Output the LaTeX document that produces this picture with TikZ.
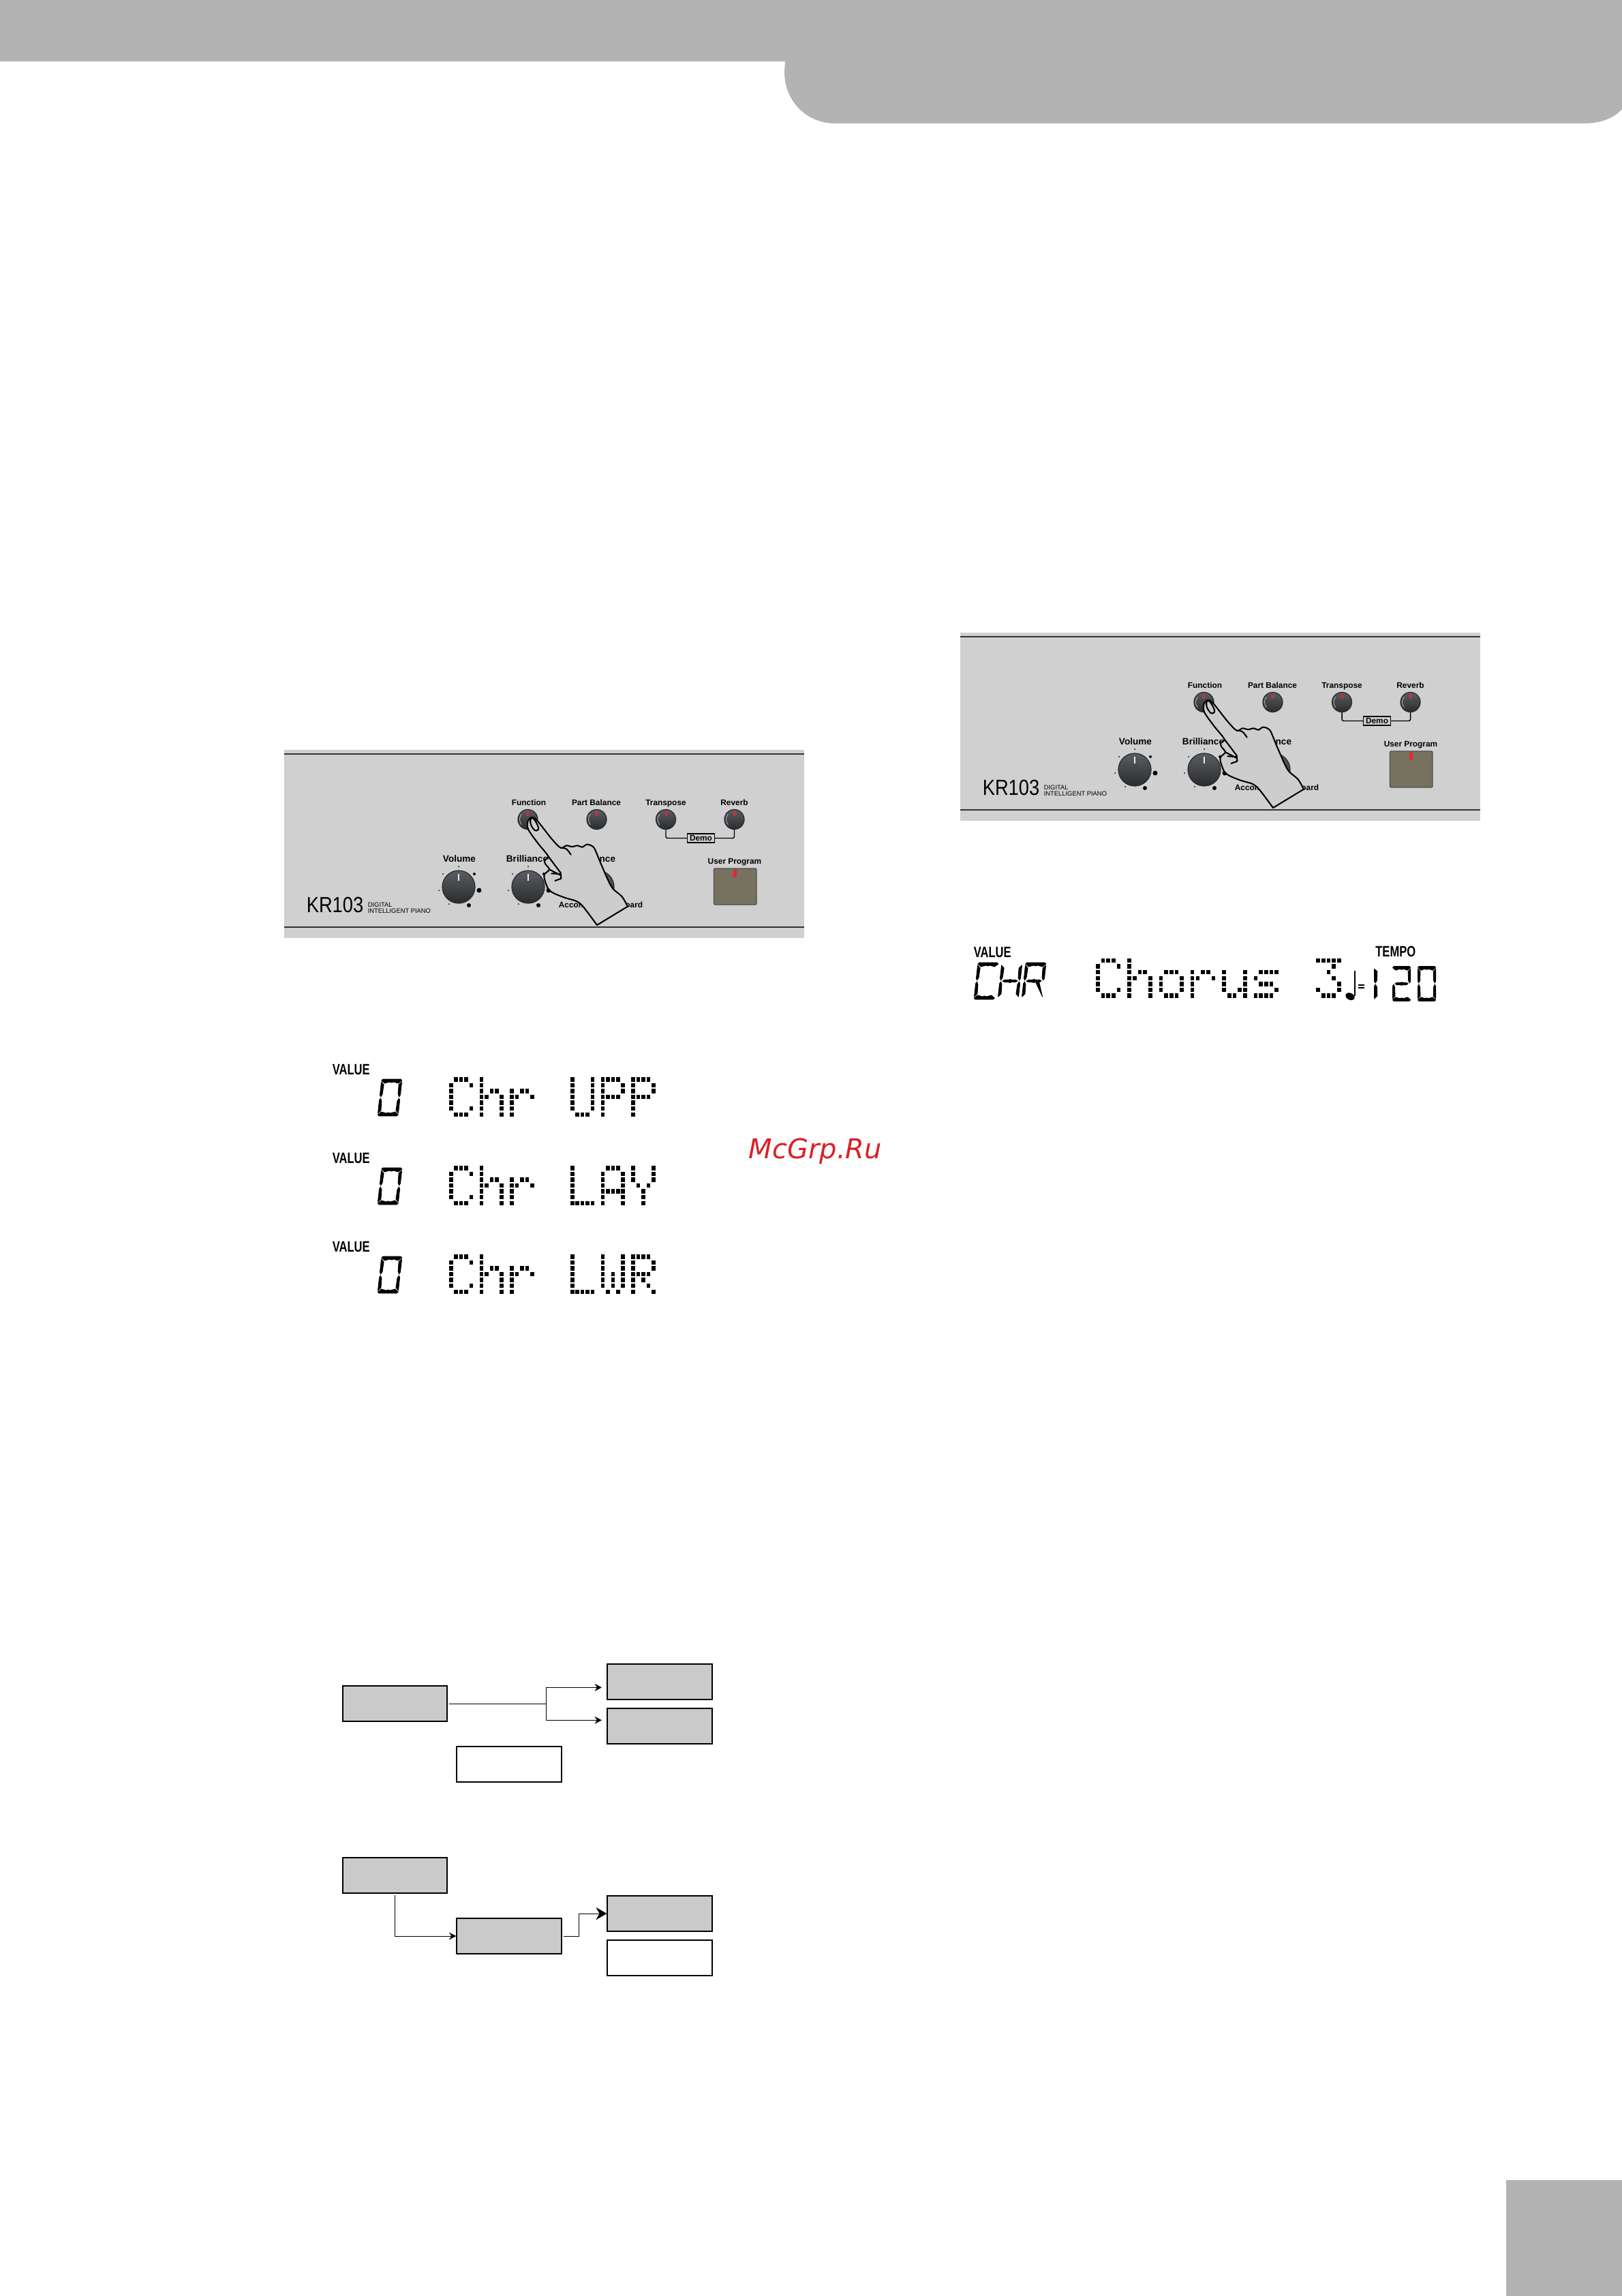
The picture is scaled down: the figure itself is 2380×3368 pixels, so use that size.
\documentclass[tikz,border=0pt]{standalone}
\usepackage{fontspec}
\setmainfont{Liberation Sans}
\newfontfamily\wmfont{DejaVu Sans}
\usetikzlibrary{arrows.meta}

\definecolor{bandgray}{HTML}{B3B3B3}
\definecolor{panelgray}{HTML}{D0D0D0}
\definecolor{handgray}{HTML}{CDCDCD}
\definecolor{rulegray}{HTML}{333333}
\definecolor{boxgray}{HTML}{CACACA}
\definecolor{knobtop}{HTML}{5A5E62}
\definecolor{knobbot}{HTML}{2A2B2D}
\definecolor{ledred}{HTML}{E8262C}
\definecolor{btngray}{HTML}{76725F}
\definecolor{wmred}{HTML}{DA2128}

\tikzset{
  panellab/.style={font=\fontsize{2.85}{3.4}\selectfont\bfseries,inner sep=0pt,anchor=base},
  knoblab/.style={font=\fontsize{3.26}{3.9}\selectfont\bfseries,inner sep=0pt,anchor=base},
  lcdlab/.style={font=\fontsize{5.3}{6}\selectfont\bfseries,inner sep=0pt},
  flowbox/.style={draw,line width=0.48pt,minimum width=36.8pt,minimum height=12.6pt,inner sep=0pt},
  graybox/.style={flowbox,fill=boxgray},
  flowline/.style={line width=0.24pt},
  flowarrow/.style={flowline,-{Stealth[length=2.5pt,width=2.6pt]}},
  bigarrow/.style={flowline,-{Stealth[length=3.8pt,width=4.4pt]}},
  handline/.style={line width=0.5pt,line join=round,line cap=round},
  thicksegs/.style={every path/.append style={draw=black,line width=0.2pt,line join=round}},
}

% small round button: x, y
\newcommand{\smallknob}[2]{
  \shade[top color=knobtop,bottom color=knobbot,draw=knobbot,line width=0.3pt] (#1,#2) circle (14.5);
  \draw[gray!60,line width=0.2pt] (#1,#2) ++(140:12) arc (140:220:12);
  \fill[ledred] (#1-1.5,#2-11.5) rectangle (#1+1.5,#2-5);
}
% big knob: x, y
\newcommand{\bigknob}[2]{
  \shade[top color=knobtop,bottom color=knobbot,draw=knobbot,line width=0.3pt] (#1,#2) circle (24);
  \fill[white!85!gray] (#1-1.2,#2-19) rectangle (#1+1.2,#2-9);
}
% the scale round a big knob: x, y
\newcommand{\knobscale}[2]{
  \foreach \dx/\dy/\dr in {0/-30/1,-23/-19/1,23/-19/2,-29/5/1,30/5/3.5,-14/25/1,15/27/3}
    \fill[black] (#1+\dx,#2+\dy) circle (\dr);
}
% the whole control panel: shift x, shift y, prefix
\newcommand{\kbdpanel}[3]{
\begin{scope}[shift={(#1,#2)},name prefix=#3-]
%Shape: Panel
\fill[panelgray] (417,1100) rectangle (1180,1376);
%Straight Lines
\draw[rulegray,line width=0.6pt] (417,1106) -- (1180,1106);
\draw[rulegray,line width=0.6pt] (417,1360) -- (1180,1360);
% Text Node
\node[panellab] (function) at (776,1181) {Function};
\node[panellab] (partbal) at (875,1181) {Part Balance};
\node[panellab] (transpose) at (977,1181) {Transpose};
\node[panellab] (reverb) at (1077.5,1181) {Reverb};
\node[knoblab] (volume) at (674,1264.5) {Volume};
\node[knoblab] (brilliance) at (773.5,1264.5) {Brilliance};
\node[knoblab] (balance) at (877,1264.5) {Balance};
\node[panellab] (userprog) at (1078,1267) {User Program};
\node[panellab,anchor=base west] (accomp) at (819,1331) {Accomp};
\node[panellab,anchor=base east] (keyboard) at (944,1331) {Keyboard};
%Shape: Buttons
\smallknob{774.5}{1202}
\smallknob{875.5}{1202}
\smallknob{977}{1202}
\smallknob{1077.5}{1202}
\knobscale{673}{1301}
\knobscale{775}{1301}
\bigknob{673}{1301}
\bigknob{775}{1301}
\bigknob{877}{1301}
%Shape: Demo bracket
\node[panellab,anchor=center,draw,line width=0.35pt,minimum width=9.6pt,minimum height=3.1pt] (demo) at (1028.5,1229.5) {Demo};
\coordinate (trbot) at (977,1217);
\coordinate (rvbot) at (1077.5,1217);
\draw[line width=0.35pt,rounded corners=0.6pt] (trbot) |- (demo.west);
\draw[line width=0.35pt,rounded corners=0.6pt] (rvbot) |- (demo.east);
%Shape: User Program button
\fill[btngray,draw=black!70,line width=0.3pt,rounded corners=0.3pt] (1047.5,1274) rectangle (1110,1327);
\fill[ledred] (1075.5,1276) rectangle (1080.5,1287);
% Text Node
\node[anchor=west,inner sep=0pt,font=\fontsize{7.7}{8}\selectfont] (logo) at (449,1327.5) {\scalebox{0.85}[1]{KR103}};
\node[anchor=west,inner sep=0pt,font=\fontsize{2.25}{2.6}\selectfont] (digital) at (539,1327) {DIGITAL};
\node[anchor=west,inner sep=0pt,font=\fontsize{2.25}{2.6}\selectfont] (intel) at (539,1336) {INTELLIGENT PIANO};
%Curve Lines: the hand
\begin{scope}[shift={(774,1202)},x=0.08pt,y=-0.08pt,shift={(-74,-60)}]
\draw[handline,fill=handgray] plot[smooth,tension=0.5] coordinates {(515,443) (490,400) (450,365) (430,330) (395,250) (370,190) (355,175) (335,170) (315,182) (295,175) (270,180) (245,175) (220,185) (180,145) (125,75) (105,55) (90,52) (75,70) (78,105) (120,165) (165,222) (150,240) (152,255) (170,280) (150,300) (148,320) (165,365) (190,385) (240,405) (290,420) (320,445) (380,525)} -- cycle;
\draw[handline] (165,222) -- (220,295) -- (222,320) -- (195,330);
\draw[handline] (170,280) -- (218,305);
\draw[handline] (180,298) -- (218,300);
\draw[handline] plot[smooth,tension=0.6] coordinates {(220,185) (245,190) (265,215)};
\draw[handline] plot[smooth cycle,tension=0.7] coordinates {(90,55) (105,62) (122,95) (118,107) (105,107) (88,80)};
\end{scope}
\end{scope}
}

% one dot of the matrix display
\newcommand{\lcddot}[1]{\fill[black] ({\lcdx+#1*\lcdp-2.8},{\lcdy+\ri*\lcdq-3.2}) rectangle +(5.6,6.4);}
\newcommand{\lcdrow}[5]{%
  \ifnum#1=1 \lcddot{0}\fi \ifnum#2=1 \lcddot{1}\fi \ifnum#3=1 \lcddot{2}\fi
  \ifnum#4=1 \lcddot{3}\fi \ifnum#5=1 \lcddot{4}\fi}
\def\glyphC{01110,10001,10000,10000,10000,10001,01110}
\def\glyphh{10000,10000,10110,11001,10001,10001,10001}
\def\glyphr{00000,00000,10110,11001,10000,10000,10000}
\def\glyphU{10001,10001,10001,10001,10001,10001,01110}
\def\glyphP{11110,10001,10001,11110,10000,10000,10000}
\def\glyphL{10000,10000,10000,10000,10000,10000,11111}
\def\glyphA{01110,10001,10001,10001,11111,10001,10001}
\def\glyphY{10001,10001,10001,01010,00100,00100,00100}
\def\glyphW{10001,10001,10001,10101,10101,10101,01010}
\def\glyphR{11110,10001,10001,11110,10100,10010,10001}
\def\glypho{00000,00000,01110,10001,10001,10001,01110}
\def\glyphu{00000,00000,10001,10001,10001,10011,01101}
\def\glyphs{00000,00000,01111,10000,01110,00001,11110}
\def\glyphthree{11111,00010,00100,00010,00001,10001,01110}
% a word of the matrix display: column pitch, row pitch, x, y, letters
\newcommand{\lcdword}[5]{
  \def\lcdp{#1}\def\lcdq{#2}
  \foreach \g [count=\gi from 0] in {#5} {
    \pgfmathsetmacro{\lcdx}{#3+6*#1*\gi}
    \def\lcdy{#4}
    \edef\glist{\csname glyph\g\endcsname}
    \foreach \lrow [count=\ri from 0] in \glist {\expandafter\lcdrow\lrow}
  }
}
% segments of the large digits
\def\sega{(2,0)--(28,0)--(30,2)--(25,6)--(18,4)--(15,5)--(12,4)--(5,6)--(0,2)--cycle}
\def\segd{(0,52)--(5,48)--(12,50)--(15,49)--(18,50)--(25,48)--(30,52)--(28,54)--(2,54)--cycle}
\def\segf{(0,4)--(4,8)--(3.5,22)--(1.5,26)--(0,23)--cycle}
\def\sege{(0,31)--(1.5,28)--(3.5,32)--(4,46)--(0,50)--cycle}
\def\segb{(30,4)--(26,8)--(26.5,22)--(28.5,26)--(30,23)--cycle}
\def\segc{(30,31)--(28.5,28)--(26.5,32)--(26,46)--(30,50)--cycle}
\def\segg{(4,27)--(7,25.3)--(13,25.3)--(15,24.5)--(17,25.3)--(23,25.3)--(26,27)--(23,28.7)--(17,28.7)--(15,29.5)--(13,28.7)--(7,28.7)--cycle}
\def\segz{(18,29)--(23,29)--(30,50)--cycle}
% a large digit: options, x, y, segments
\newcommand{\segdigit}[4]{
  \begin{scope}[shift={(#2,#3)},thicksegs,#1]
  \foreach \s in {#4} \fill[black] \csname seg\s\endcsname;
  \end{scope}
}

\begin{document}
\begin{tikzpicture}[x=0.24pt,y=-0.24pt]
\useasboundingbox (0,0) rectangle (2380,3368);

%Shape: Page band
\fill[bandgray] (0,0) -- (2380,0) -- (2380,160) .. controls (2370,172) and (2350,181) .. (2325,181) -- (1225,181) .. controls (1185,181) and (1151,150) .. (1151,105) -- (1152,90) -- (0,90) -- cycle;
%Shape: Page corner
\fill[bandgray] (2210,3198) rectangle (2380,3368);

\kbdpanel{0}{0}{low}
\kbdpanel{992}{-172}{up}

%Shape: left display
\foreach \shiftY/\wa/\wb/\wc/\nm in {0/U/P/P/upp,130/L/A/Y/lay,260/L/W/R/lwr} {
  \node[lcdlab,anchor=base west] (value\nm) at (487,1576+\shiftY) {\scalebox{0.75}[1]{VALUE}};
  \segdigit{xslant=0.11}{560}{1583+\shiftY}{a,b,c,d,e,f}
  \lcdword{7.45}{8.57}{661.7}{1583.3+\shiftY}{C,h,r}
  \lcdword{7.45}{8.57}{839.7}{1583.3+\shiftY}{\wa,\wb,\wc}
}

%Shape: right display
\node[lcdlab,anchor=base west] (valuechr) at (1428,1404) {\scalebox{0.75}[1]{VALUE}};
\node[lcdlab,anchor=base west] (tempo) at (2017.5,1403.5) {\scalebox{0.75}[1]{TEMPO}};
\segdigit{xslant=0.11}{1435}{1412}{a,f,e,d}
\segdigit{xslant=0.11}{1470}{1412}{f,e,b,c,g}
\segdigit{xslant=0.11}{1505}{1412}{a,f,b,g,e,z}
\lcdword{7.72}{8.6}{1610.7}{1409}{C,h,o,r,u,s}
\lcdword{7.75}{8.6}{1934}{1409}{three}
%Shape: note
\fill[black,rotate around={-25:(1981,1461.7)}] (1981,1461.7) ellipse (7 and 5);
\fill[black] (1986.5,1424) rectangle (1988.7,1461);
\fill[black] (1992.7,1444) rectangle (2001.7,1446);
\fill[black] (1992.7,1448) rectangle (2001.7,1450);
\segdigit{yscale=0.945,xscale=1.1}{2016.5}{1417.5}{e,f}
\segdigit{yscale=0.945,xscale=0.87}{2043.5}{1417.5}{a,b,g,e,d}
\segdigit{yscale=0.945,xscale=0.87}{2080.5}{1417.5}{a,b,c,d,e,f}

% Text Node
\node[text=wmred,anchor=base west,inner sep=0pt,font=\fontsize{9.6}{11}\selectfont\wmfont\itshape] (mcgrp) at (1098,1699) {McGrp.Ru};

%Shape: upper flow
\node[graybox] (boxa) at (579.5,2499) {};
\node[graybox] (boxb) at (968,2467) {};
\node[graybox] (boxc) at (968,2532) {};
\node[flowbox,fill=white] (boxd) at (747,2588) {};
\coordinate (split) at (801.5,2499);
\coordinate (tob) at (883,2475.3);
\coordinate (toc) at (883,2523.3);
\draw[flowline,shorten <=0.5pt] (boxa.east) -- (split);
\draw[flowarrow] (split) |- (tob);
\draw[flowarrow] (split) |- (toc);

%Shape: lower flow
\node[graybox] (boxe) at (579.5,2751) {};
\node[graybox] (boxf) at (747,2840) {};
\node[graybox] (boxg) at (968,2807) {};
\node[flowbox,fill=white] (boxh) at (968,2872) {};
\coordinate (fmid) at (849,2807);
\draw[flowarrow,shorten <=0.5pt] (boxe.south) |- (boxf.west);
\draw[flowline,shorten <=0.5pt] (boxf.east) -| (fmid);
\draw[bigarrow] (fmid) -- (boxg.west);

\end{tikzpicture}
\end{document}
